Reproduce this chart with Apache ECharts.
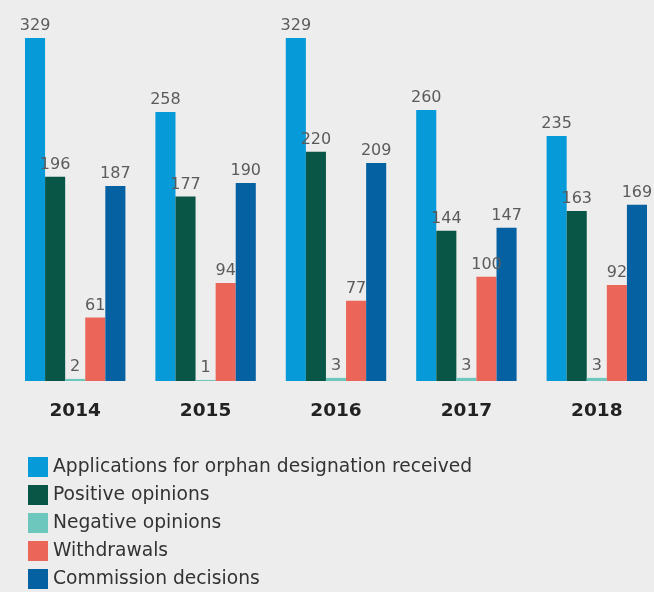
<!DOCTYPE html>
<html><head><meta charset="utf-8">
<script src="https://cdn.jsdelivr.net/npm/echarts@6/dist/echarts.min.js"></script>
<style>html,body{margin:0;padding:0;background:#ededed;}#c{width:654px;height:592px;}</style>
</head><body><div id="c"></div>
<script>
const years = ['2014','2015','2016','2017','2018'];
const seriesNames = ['Applications for orphan designation received','Positive opinions','Negative opinions','Withdrawals','Commission decisions'];
const applications = [329,258,329,260,235];
const positive = [196,177,220,144,163];
const negative = [2,1,3,3,3];
const withdrawals = [61,94,77,100,92];
const decisions = [187,190,209,147,169];
const colors = ['#069ad9','#0a5646','#6dc7bc','#ec6559','#0661a3'];
const values = [applications, positive, negative, withdrawals, decisions];

const chart = echarts.init(document.getElementById('c'));
chart.setOption({
  backgroundColor:'#ededed',
  animation:false,
  grid:{left:10, width:652, top:38, bottom:211, containLabel:false, outerBoundsMode:'none'},
  legend:{
    orient:'vertical', left:28, top:457, height:200, padding:0,
    itemWidth:20, itemHeight:20, itemGap:8,
    icon:'rect',
    textStyle:{fontFamily:'DejaVu Sans', fontSize:18.7, lineHeight:20, color:'#333'},
    data:seriesNames
  },
  xAxis:{type:'category', data:years,
    axisLine:{show:false}, axisTick:{show:false},
    axisLabel:{margin:21, fontFamily:'DejaVu Sans', fontWeight:'bold', fontSize:18.5, color:'#222'}},
  yAxis:{type:'value', min:0, max:329, show:false, splitLine:{show:false}},
  series: seriesNames.map((n,i)=>({
    name:n, type:'bar', data:values[i], barGap:'0%', barCategoryGap:'23%',
    itemStyle:{color:colors[i]},
    label:{show:true, position:'top', distance:4, fontFamily:'DejaVu Sans', fontSize:16, color:'#5b5b5b'}
  }))
});
</script></body></html>
